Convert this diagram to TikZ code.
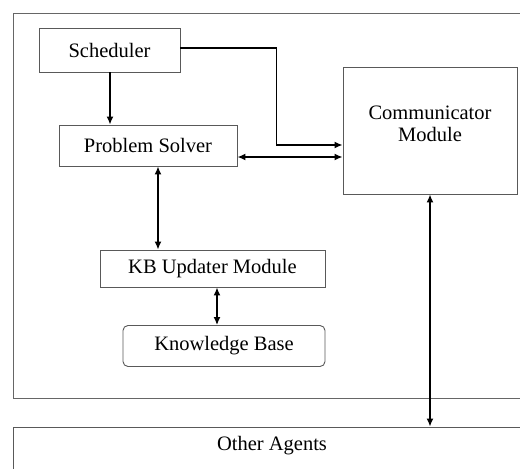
\documentclass[tikz,border=0pt]{standalone}
\usepackage{fontspec}
\setmainfont{Liberation Serif}
\usepackage{tikz}
\usetikzlibrary{positioning}
\usetikzlibrary{arrows.meta}

\tikzset{
  blockbox/.style={draw=black!65, line width=0.9pt, rectangle, inner sep=0pt},
  blocktext/.style={font=\fontsize{20.5}{22.5}\selectfont, align=center, inner sep=0pt},
  link/.style={line width=1.5pt, -{Latex[length=8pt,width=7pt]}},
  twolink/.style={line width=1.5pt, {Latex[length=8pt,width=7pt]}-{Latex[length=8pt,width=7pt]}}
}

\begin{document}
\begin{tikzpicture}[x=1pt,y=-1pt]
\useasboundingbox (0,0) rectangle (520,469);
\clip (0,0) rectangle (520,469);
\fill[white] (0,0) rectangle (520,469);
% frame of the agent
\draw[draw=black!60, line width=0.9pt] (13,13) rectangle (532,398);
% modules
\node[blockbox, blocktext, minimum width=141pt, minimum height=44pt] (sched) at (109.5,50) {Scheduler};
\node[blockbox, blocktext, minimum width=178pt, minimum height=41pt] (solver) at (148,145.5) {Problem Solver};
\node[blockbox, minimum width=174pt, minimum height=127pt] (comm) at (430,130.5) {};
\node[blocktext] (commlabel) at (430,124) {Communicator\\Module};
\node[blockbox, blocktext, minimum width=225pt, minimum height=37pt] (kbup) at (212.5,268.5) {KB Updater Module};
\node[blockbox, blocktext, rounded corners=5pt, minimum width=202pt, minimum height=41pt] (kbase) at (224,346) {Knowledge Base};
\node[blockbox, minimum width=519pt, minimum height=60pt] (others) at (272.5,457) {};
\node[blocktext] (otherslabel) at (272,446) {Other Agents};
% connectors
\draw[link] ([xshift=0.5]sched.south) -- ([xshift=0.5]sched.south |- solver.north);
\draw[link] ([yshift=2]sched.east) -- ++(96,0) |- ([yshift=-14.5]comm.west);
\draw[twolink] ([yshift=-11.5]solver.east) -- ([yshift=-11.5]solver.east -| comm.west);
\draw[twolink] ([xshift=10]solver.south) -- ([xshift=10]solver.south |- kbup.north);
\draw[twolink] ([xshift=4.5]kbup.south) -- ([xshift=4.5]kbup.south |- kbase.north);
\draw[twolink] (comm.south) -- (comm.south |- others.north);
\end{tikzpicture}
\end{document}
